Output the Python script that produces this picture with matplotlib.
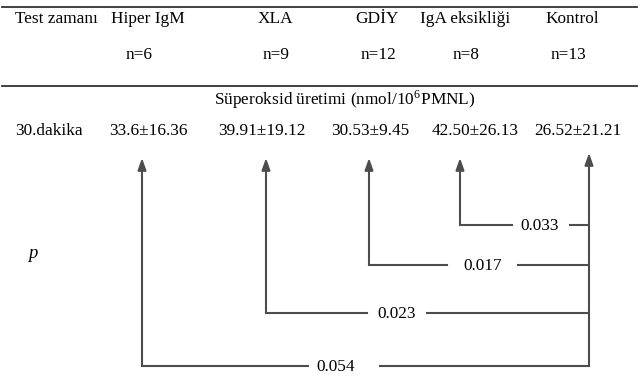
import matplotlib.pyplot as plt

# Tablo verileri
gruplar = ['Hiper IgM', 'XLA', 'GDİY', 'IgA eksikliği', 'Kontrol']
n_degerleri = [6, 9, 12, 8, 13]
ortalama = ['33.6', '39.91', '30.53', '42.50', '26.52']
sapma = ['16.36', '19.12', '9.45', '26.13', '21.21']
p_degerleri = ['0.054', '0.023', '0.017', '0.033']  # Kontrol ile karşılaştırma

# Yerleşim (piksel)
x_baslik = [148, 275, 377, 465, 572]
x_n = [139, 276, 378, 466, 568]
x_deger = [148, 262, 370, 475, 578]
x_ok = [142, 266, 369, 460]
x_kontrol = 589
y_cizgi = [366, 313, 265, 225]
x_etiket = [336, 397, 483, 540]
bosluk = [[308, 380], [367, 427], [447, 518], [512, 570]]

plt.rcParams['font.family'] = ['Liberation Serif', 'DejaVu Serif']
plt.rcParams['mathtext.fontset'] = 'stix'

fig = plt.figure(figsize=(6.4, 3.91), dpi=100)
ax = fig.add_axes([0, 0, 1, 1])
ax.set_xlim(0, 640)
ax.set_ylim(391, 0)
ax.axis('off')

fs = 12.4

# Yatay çizgiler
ax.plot([2, 637], [7, 7], color='#333333', lw=1.3)
ax.plot([2, 637], [86, 86], color='#333333', lw=1.3)

ax.text(15, 19, 'Test zamanı', fontsize=fs, va='center', ha='left')
for i, g in enumerate(gruplar):
    ax.text(x_baslik[i], 19, g, fontsize=fs, va='center', ha='center')
    ax.text(x_n[i], 55, f'n={n_degerleri[i]}', fontsize=fs, va='center', ha='center')
    ax.text(x_deger[i], 131, f'{ortalama[i]}±{sapma[i]}', fontsize=fs, va='center', ha='center')

ax.text(345, 100, 'Süperoksid üretimi (nmol/10$^{\\mathregular{6}}$PMNL)', fontsize=fs,
        va='center', ha='center')
ax.text(15, 131, '30.dakika', fontsize=fs, va='center', ha='left')
ax.text(33, 253, 'p', fontsize=fs + 1, va='center', ha='center', style='italic')

renk = '#4d4d4d'
# Kontrol dikey çizgisi ve oku
ax.annotate('', xy=(x_kontrol, 153), xytext=(x_kontrol, y_cizgi[0]),
            arrowprops=dict(arrowstyle='-|>,head_length=0.7,head_width=0.25',
                            color=renk, lw=1.5, shrinkA=0, shrinkB=0))

for i in range(4):
    ax.annotate('', xy=(x_ok[i], 158), xytext=(x_ok[i], y_cizgi[i]),
                arrowprops=dict(arrowstyle='-|>,head_length=0.7,head_width=0.25',
                                color=renk, lw=1.5, shrinkA=0, shrinkB=0))
    ax.plot([x_ok[i], bosluk[i][0]], [y_cizgi[i], y_cizgi[i]], color=renk, lw=1.5)
    ax.plot([bosluk[i][1], x_kontrol], [y_cizgi[i], y_cizgi[i]], color=renk, lw=1.5)
    ax.text(x_etiket[i], y_cizgi[i] + 1, p_degerleri[i], fontsize=fs, va='center', ha='center')

fig.savefig('out.png', dpi=100)
